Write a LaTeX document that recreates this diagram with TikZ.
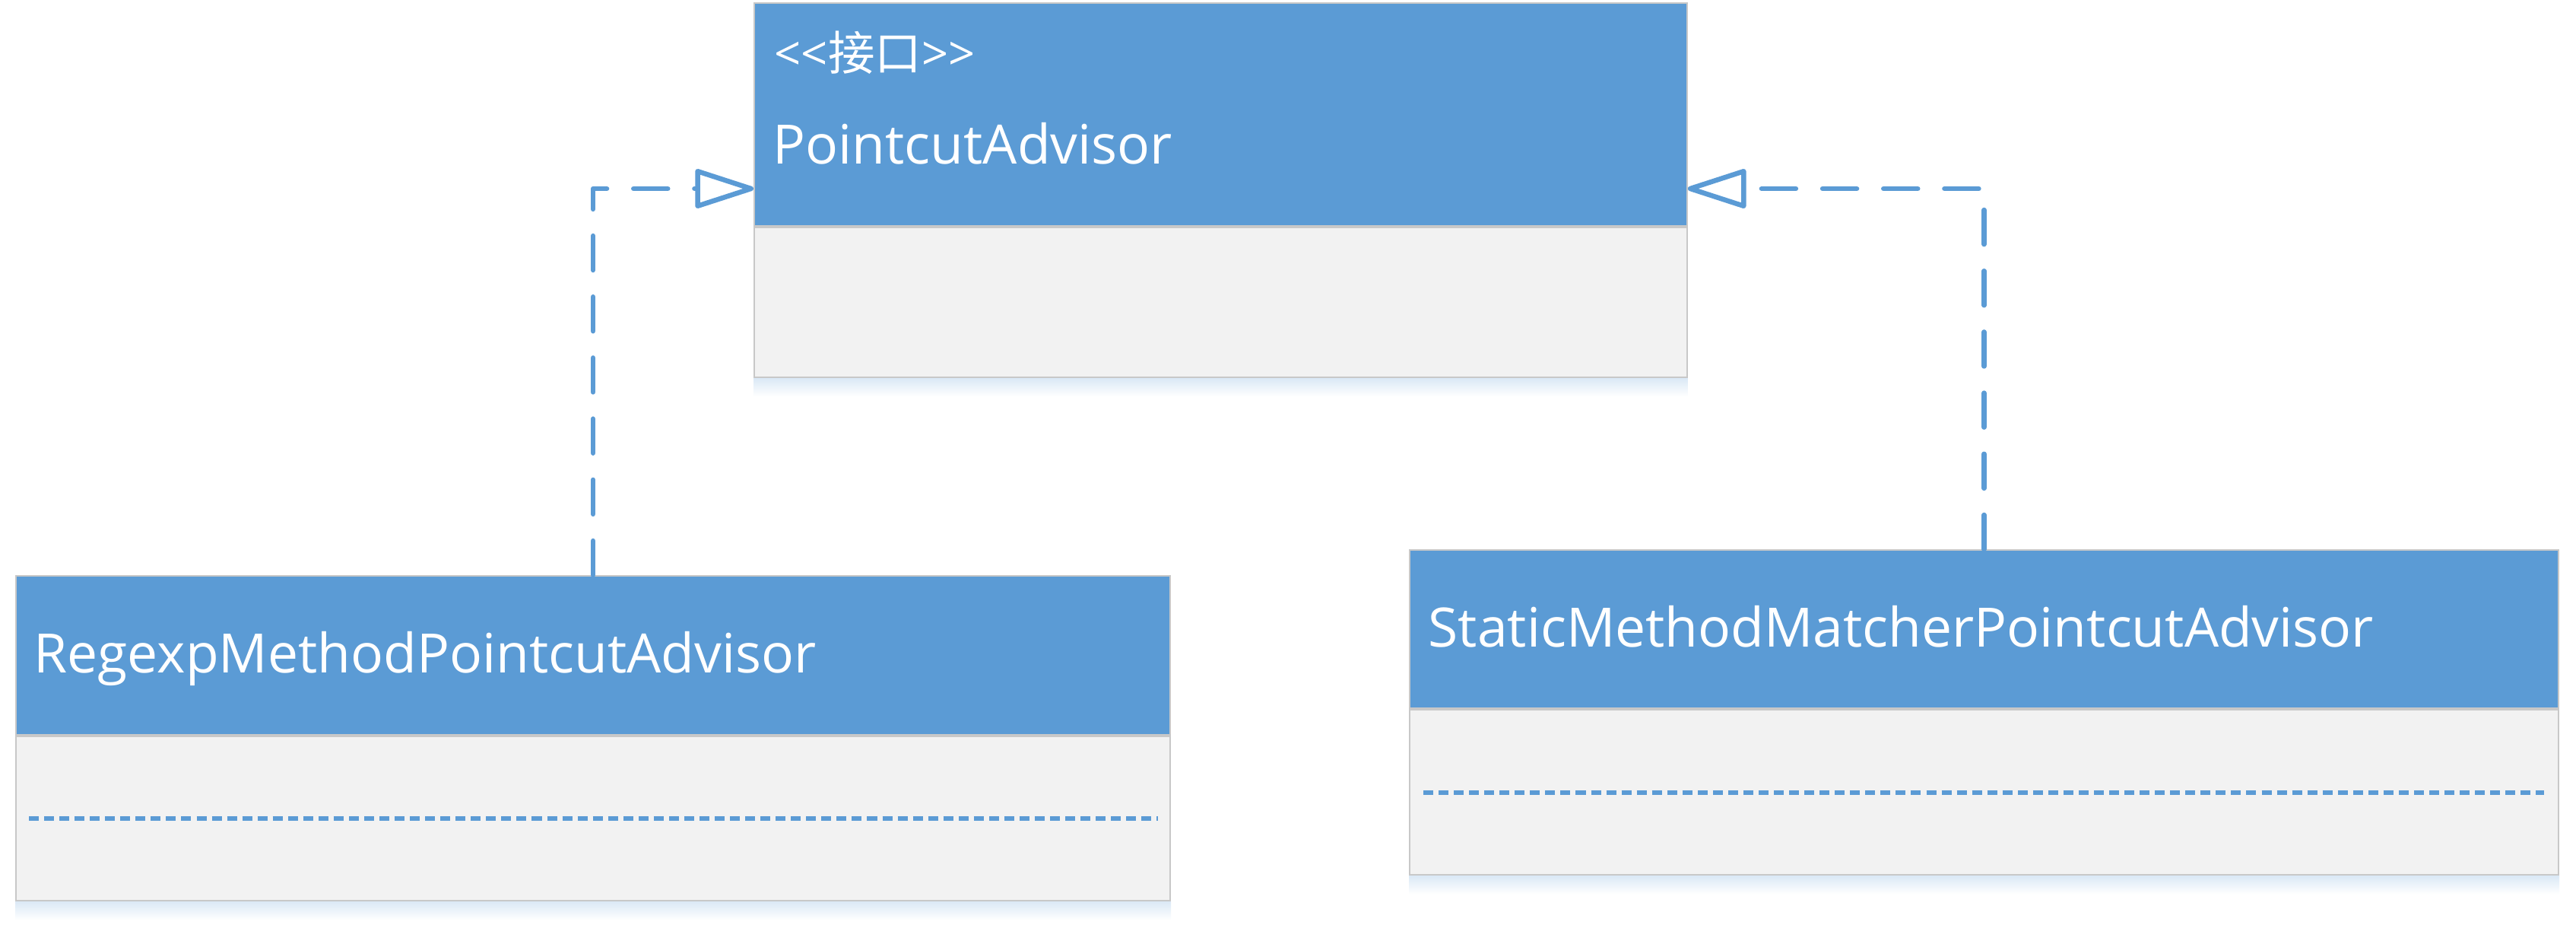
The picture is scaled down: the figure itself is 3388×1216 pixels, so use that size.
\documentclass[tikz,border=0pt]{standalone}
\usepackage{fontspec}
\setmainfont{Open Sans}
\newfontfamily\cjkfont{Noto Sans CJK SC}
\usetikzlibrary{arrows.meta,calc,positioning}
\definecolor{umlblue}{HTML}{5B9BD5}
\definecolor{umlgrey}{HTML}{F2F2F2}
\definecolor{umlframe}{HTML}{C8C8C8}

\begin{document}
\begin{tikzpicture}[x=0.01cm,y=-0.01cm]
  % styles
  \tikzset{
    classhead/.style={rectangle,draw=umlframe,fill=umlblue,line width=0.6pt,inner sep=0pt},
    classbody/.style={rectangle,draw=umlframe,fill=umlgrey,line width=0.6pt,inner sep=0pt},
    classname/.style={anchor=base west,inner sep=0pt,text=white,font=\fontsize{20.3}{24}\selectfont},
    stereo/.style={anchor=base west,inner sep=0pt,text=white,font=\fontsize{17.5}{20}\selectfont},
    sepline/.style={umlblue,line width=1.7pt,dash pattern=on 3.7pt off 2pt},
    realize/.style={umlblue,line width=1.85pt,line cap=round,line join=round,
      dash pattern=on 12.8pt off 10pt,
      -{Triangle[open,length=24pt,width=15pt,line join=round]}},
    boxshadow/.style={top color=umlblue!22,bottom color=white,draw=none}
  }
  \useasboundingbox (0,0) rectangle (3388,1216);

  % nodes
  \node[classhead,anchor=north west,minimum width=12.26cm,minimum height=2.93cm] (ifacehead) at (991,3) {};
  \node[classbody,below=0pt of ifacehead,minimum width=12.26cm,minimum height=1.97cm] (ifacebody) {};
  \node[stereo] (ifacestereo) at ($(ifacehead.north west)+(27,90)$) {<\kern0pt<{\cjkfont 接口}>\kern0pt>};
  \node[classname] (ifacename) at ($(ifacehead.north west)+(25,213)$) {PointcutAdvisor};

  \node[classhead,anchor=north west,minimum width=15.17cm,minimum height=2.09cm] (regexphead) at (20,756) {};
  \node[classbody,below=0pt of regexphead,minimum width=15.17cm,minimum height=2.16cm] (regexpbody) {};
  \node[classname] (regexpname) at ($(regexphead.north west)+(24,128)$) {RegexpMethodPointcutAdvisor};

  \node[classhead,anchor=north west,minimum width=15.10cm,minimum height=2.08cm] (statichead) at (1853,722) {};
  \node[classbody,below=0pt of statichead,minimum width=15.10cm,minimum height=2.17cm] (staticbody) {};
  \node[classname] (staticname) at ($(statichead.north west)+(25,128)$) {StaticMethodMatcherPointcutAdvisor};

  % shadows
  \shade[boxshadow] (ifacebody.south west) rectangle ($(ifacebody.south east)+(0,24)$);
  \shade[boxshadow] (regexpbody.south west) rectangle ($(regexpbody.south east)+(0,24)$);
  \shade[boxshadow] (staticbody.south west) rectangle ($(staticbody.south east)+(0,24)$);

  % separators
  \draw[sepline] ([xshift=0.18cm]regexpbody.west) -- ([xshift=-0.17cm]regexpbody.east);
  \draw[sepline] ([xshift=0.19cm]staticbody.west) -- ([xshift=-0.20cm]staticbody.east);

  % edges
  \coordinate (ifaceL) at ($(ifacehead.north west)+(0,245)$);
  \coordinate (ifaceR) at ($(ifacehead.north east)+(0,245)$);
  \draw[realize] (regexphead.north) |- (ifaceL);
  \draw[realize] (statichead.north) |- (ifaceR);
\end{tikzpicture}
\end{document}
